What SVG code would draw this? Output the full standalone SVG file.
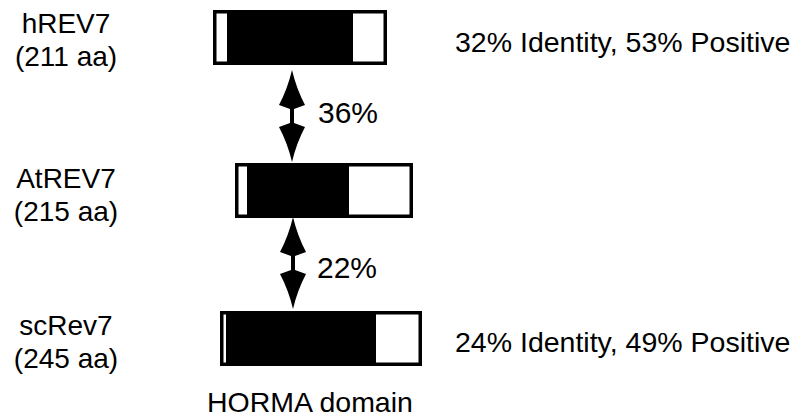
<svg xmlns="http://www.w3.org/2000/svg" width="796" height="419" viewBox="0 0 796 419">
  <style>
    text { font-family: "Liberation Sans", Arial, sans-serif; fill: #000; }
    .lbl { font-size: 28px; text-anchor: middle; }
    .stat { font-size: 28.5px; }
    .pct { font-size: 30px; }
    .frame { fill: #fff; stroke: #000; stroke-width: 3.5; }
    .horma { fill: #000; }
    .arrow { fill: #000; }
  </style>
  <defs>
    <!-- double-headed vertical arrow, top tip at origin, 92 px long -->
    <path id="dblArrow" d="M0,0 Q-4.5,19 -13,35 L-2,39 L-2,53 L-13,57 Q-4.5,73 0,92 Q4.5,73 13,57 L2,53 L2,39 L13,35 Q4.5,19 0,0 Z"/>
  </defs>

  <rect width="796" height="419" fill="#fff"/>

  <!-- hREV7 -->
  <g id="hREV7">
    <text class="lbl" x="66" y="33">hREV7</text>
    <text class="lbl" x="66" y="66">(211 aa)</text>
    <rect class="frame" x="214.75" y="11.75" width="170.5" height="51.5"/>
    <rect class="horma" x="227" y="10" width="126" height="55"/>
    <text class="stat" x="455" y="52">32% Identity, 53% Positive</text>
  </g>

  <!-- AtREV7 -->
  <g id="AtREV7">
    <text class="lbl" x="66" y="188">AtREV7</text>
    <text class="lbl" x="66" y="221">(215 aa)</text>
    <rect class="frame" x="236.75" y="164.75" width="174.5" height="51.5"/>
    <rect class="horma" x="247" y="163" width="102" height="55"/>
  </g>

  <!-- scRev7 -->
  <g id="scRev7">
    <text class="lbl" x="66" y="335">scRev7</text>
    <text class="lbl" x="66" y="368">(245 aa)</text>
    <rect class="frame" x="221.75" y="312.75" width="198.5" height="51.5"/>
    <rect class="horma" x="226" y="311" width="150" height="55"/>
    <text class="stat" x="455" y="352">24% Identity, 49% Positive</text>
  </g>

  <!-- domain legend -->
  <g id="legend">
    <text class="stat" x="207" y="412">HORMA domain</text>
  </g>

  <!-- pairwise identity connectors -->
  <g id="connectors">
    <use href="#dblArrow" class="arrow" transform="translate(292,70)"/>
    <text class="pct" x="318" y="123">36%</text>
    <use href="#dblArrow" class="arrow" transform="translate(293,217)"/>
    <text class="pct" x="317" y="278">22%</text>
  </g>
</svg>
